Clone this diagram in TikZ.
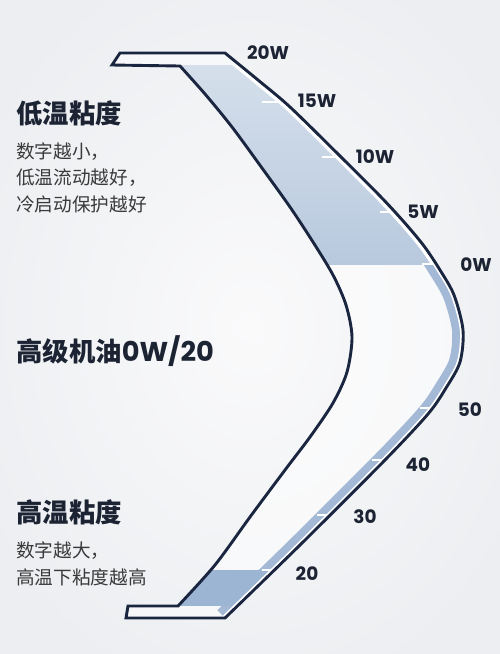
\documentclass[tikz,border=0pt]{standalone}
\usepackage{fontspec}
\setmainfont{Poppins}
\newfontfamily\cjk{Noto Sans CJK SC}
\definecolor{navy}{HTML}{1A2540}
\definecolor{titlec}{HTML}{1C2333}
\definecolor{bodyc}{HTML}{3A3A3A}
\definecolor{fillTop}{HTML}{D5DFEB}
\definecolor{fillBot}{HTML}{B8C9DE}
\definecolor{stripc}{HTML}{A3B9D6}
\definecolor{darkfill}{HTML}{9CB5D3}
\definecolor{bgin}{HTML}{FAFAFB}
\definecolor{bgout}{HTML}{ECEEF1}
\newcommand\outerdraw[1]{\draw[#1] plot[smooth,tension=0.5] coordinates {(225,53) (258,80) (290,107) (340,156) (380,196) (404,222) (424,246) (440,270) (454,295) (463,330) (460,362) (446,388) (428,414) (385,460) (300,545) (225,618)};}
\newcommand\shapecmd[1]{#1 (120,53) -- plot[smooth,tension=0.5] coordinates {(225,53) (258,80) (290,107) (340,156) (380,196) (404,222) (424,246) (440,270) (454,295) (463,330) (460,362) (446,388) (428,414) (385,460) (300,545) (225,618)} -- (126,618) -- (128,606) -- plot[smooth,tension=0.5] coordinates {(178,606) (215,565) (250,517) (285,470) (310,437) (333,403) (347,372) (352,337) (346,305) (333,275) (313,242) (290,207) (262,168) (232,127) (205,94) (180,66)} -- (112,65) -- cycle;}
\tikzset{
  navyline/.style={draw=navy, line width=1.65pt, line join=miter},
  tickw/.style={white, line width=1pt},
  lab/.style={font=\bfseries\fontsize{10.5pt}{12pt}\selectfont, text=titlec, inner sep=0pt},
  ttl/.style={font=\cjk\bfseries\fontsize{15pt}{18pt}\selectfont, text=titlec, anchor=west, inner sep=0pt},
  bdy/.style={font=\cjk\fontsize{10.6pt}{13pt}\selectfont, text=bodyc, anchor=west, inner sep=0pt}
}
\begin{document}
\begin{tikzpicture}[x=0.02cm, y=-0.02cm]
\useasboundingbox (0,0) rectangle (500,654);
\shade[inner color=bgin, outer color=bgout] (-60,-60) rectangle (560,714);
\begin{scope}
  \shapecmd{\clip}
  \fill[white, opacity=0.5] (0,0) rectangle (500,654);
  % upper fill
  \begin{scope}
    \clip (0,65) rectangle (500,264);
    \shade[top color=fillTop, bottom color=fillBot] (0,65) rectangle (500,264);
    \outerdraw{white, line width=5.4pt}
  \end{scope}
  % lower strip and bottom fill
  \begin{scope}
    \clip (0,264) rectangle (500,654);
    \outerdraw{stripc, line width=12.5pt}
    \fill[darkfill] (0,570) rectangle (500,606);
    \outerdraw{white, line width=3.6pt}
  \end{scope}
  % ticks
  \draw[tickw] (262,102) -- (295,102);
  \draw[tickw] (322,157) -- (350,157);
  \draw[tickw] (380,212) -- (408,212);
  \draw[tickw] (422,264) -- (448,264);
  \draw[tickw] (420,408) -- (446,408);
  \draw[tickw] (372,460) -- (396,460);
  \draw[tickw] (317,515) -- (341,515);
  \draw[tickw] (262,570) -- (286,570);
\end{scope}
\shapecmd{\draw[navyline]}
% scale labels
\node[lab] (l20w) at (268,53) {20W};
\node[lab] (l15w) at (317,101) {15W};
\node[lab] (l10w) at (375,157) {10W};
\node[lab] (l5w) at (423,212) {5W};
\node[lab] (l0w) at (476,265) {0W};
\node[lab] (l50) at (470,410) {50};
\node[lab] (l40) at (418,465) {40};
\node[lab] (l30) at (365,517) {30};
\node[lab] (l20) at (307,574) {20};
% left texts
\node[ttl] (t1) at (16,113) {低温粘度};
\node[bdy] (b1) at (16,152) {数字越小，};
\node[bdy] (b2) at (16,178) {低温流动越好，};
\node[bdy] (b3) at (16,204) {冷启动保护越好};
\node[ttl] (t2) at (16,351) {高级机油{\fontspec{Poppins}\bfseries\fontsize{15.5pt}{18pt}\selectfont 0W/20}};
\node[ttl] (t3) at (16,512) {高温粘度};
\node[bdy] (b4) at (16,551) {数字越大，};
\node[bdy] (b5) at (16,577) {高温下粘度越高};
\end{tikzpicture}
\end{document}
